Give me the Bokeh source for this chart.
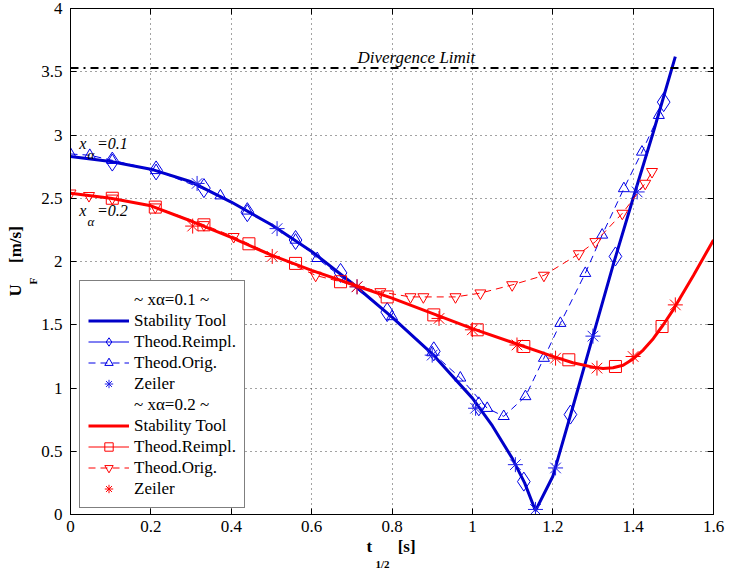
import numpy as np
from bokeh.plotting import figure
from bokeh.models import Range1d, FixedTicker, LinearAxis, Legend, LegendItem, Label, Span, Title
from bokeh.embed import file_html
from bokeh.resources import INLINE

# ---------------- ticks ----------------
x_ticks = [0, 0.2, 0.4, 0.6, 0.8, 1.0, 1.2, 1.4, 1.6]
x_tick_labels = ["0", "0.2", "0.4", "0.6", "0.8", "1", "1.2", "1.4", "1.6"]
y_ticks = [0, 0.5, 1.0, 1.5, 2.0, 2.5, 3.0, 3.5, 4.0]
y_tick_labels = ["0", "0.5", "1", "1.5", "2", "2.5", "3", "3.5", "4"]

divergence_limit = 3.53

# ---------------- x_alpha = 0.1 ----------------
st1_t = [0.0, 0.1, 0.2, 0.3, 0.4, 0.5, 0.6, 0.7, 0.8, 0.9, 1.0, 1.05, 1.1, 1.13, 1.157,
         1.2, 1.25, 1.3, 1.35, 1.4, 1.45, 1.505]
st1_u = [2.83, 2.79, 2.73, 2.63, 2.47, 2.29, 2.08, 1.83, 1.56, 1.27, 0.92, 0.70, 0.44, 0.25, 0.03,
         0.30, 0.85, 1.41, 1.97, 2.50, 3.02, 3.62]

reimpl1_t = [0.104, 0.213, 0.332, 0.44, 0.56, 0.672, 0.788, 0.904, 1.016, 1.128, 1.244, 1.356, 1.476]
reimpl1_u = [2.79, 2.72, 2.58, 2.39, 2.17, 1.91, 1.60, 1.29, 0.855, 0.26, 0.79, 2.04, 3.26]

orig1_t = [0.0, 0.048, 0.104, 0.213, 0.373, 0.44, 0.56, 0.614, 0.80, 0.90, 0.97, 1.037, 1.078,
           1.132, 1.178, 1.219, 1.281, 1.323, 1.377, 1.422, 1.464]
orig1_u = [2.85, 2.84, 2.80, 2.72, 2.52, 2.40, 2.17, 2.025, 1.565, 1.28, 1.08, 0.84, 0.776,
           0.933, 1.236, 1.512, 1.907, 2.21, 2.577, 2.866, 3.156]

zeiler1_t = [0.315, 0.514, 0.713, 0.90, 1.008, 1.107, 1.157, 1.207, 1.30, 1.41]
zeiler1_u = [2.617, 2.26, 1.80, 1.26, 0.84, 0.394, 0.04, 0.368, 1.41, 2.55]

# ---------------- x_alpha = 0.2 ----------------
st2_t = [0.0, 0.1, 0.2, 0.3, 0.4, 0.5, 0.6, 0.7, 0.8, 0.9, 1.0, 1.1, 1.2, 1.25, 1.3, 1.325,
         1.35, 1.375, 1.4, 1.425, 1.45, 1.475, 1.5, 1.55, 1.6]
st2_u = [2.54, 2.50, 2.44, 2.32, 2.19, 2.05, 1.93, 1.82, 1.71, 1.59, 1.47, 1.36, 1.25, 1.20, 1.165, 1.155,
         1.16, 1.18, 1.23, 1.30, 1.39, 1.50, 1.62, 1.89, 2.17]

reimpl2_t = [0.104, 0.211, 0.332, 0.444, 0.56, 0.672, 0.788, 0.904, 1.012, 1.128, 1.24, 1.356, 1.472]
reimpl2_u = [2.50, 2.43, 2.29, 2.14, 1.985, 1.84, 1.72, 1.578, 1.46, 1.328, 1.223, 1.17, 1.486]

orig2_t = [0.0, 0.046, 0.104, 0.211, 0.332, 0.406, 0.61, 0.771, 0.846, 0.878, 0.958, 1.02,
           1.099, 1.178, 1.265, 1.306, 1.373, 1.43, 1.447]
orig2_u = [2.54, 2.52, 2.50, 2.43, 2.29, 2.196, 1.89, 1.76, 1.72, 1.72, 1.72, 1.75,
           1.815, 1.89, 2.06, 2.156, 2.38, 2.617, 2.71]

zeiler2_t = [0.304, 0.502, 0.713, 0.917, 1.0, 1.111, 1.207, 1.31, 1.40, 1.505]
zeiler2_u = [2.28, 2.04, 1.80, 1.55, 1.46, 1.34, 1.236, 1.157, 1.249, 1.657]

# annotation anchors (data units)
ann_t = 0.022
ann_alpha_t = 0.042
ann_val_t = 0.066
ann1_u = 2.935
ann2_u = 2.40
sub_drop = 0.087
div_text_t = 0.714

BLUE_ST = "#0000C8"
BLUE = "#0000E6"
BLUE_Z = "#2020E8"
RED = "#FF0000"
FONT = "Liberation Serif"
NB = "\u00a0"

p = figure(width=729, height=569, x_range=Range1d(0, 1.6), y_range=Range1d(0, 4),
           output_backend="svg", toolbar_location=None,
           min_border_left=70, min_border_right=16, min_border_top=8, min_border_bottom=54)
p.background_fill_color = "white"
p.border_fill_color = "white"
p.outline_line_color = "black"
p.outline_line_width = 1


def style_axis(ax, ticks, labels, show, standoff=8):
    ax.ticker = FixedTicker(ticks=ticks)
    ax.major_tick_in = 6
    ax.major_tick_out = 0
    ax.minor_tick_line_color = None
    ax.axis_line_color = "black"
    ax.major_tick_line_color = "black"
    ax.major_label_text_font = FONT
    ax.major_label_text_color = "black"
    ax.major_label_standoff = standoff
    if show:
        ax.major_label_text_font_size = "17px"
        ax.major_label_overrides = {t: l for t, l in zip(ticks, labels)}
    else:
        ax.major_label_text_font_size = "0px"
        ax.major_label_text_alpha = 0


style_axis(p.xaxis[0], x_ticks, x_tick_labels, True, standoff=6)
style_axis(p.yaxis[0], y_ticks, y_tick_labels, True, standoff=8)
top_ax = LinearAxis()
right_ax = LinearAxis()
p.add_layout(top_ax, "above")
p.add_layout(right_ax, "right")
style_axis(top_ax, x_ticks, x_tick_labels, False)
style_axis(right_ax, y_ticks, y_tick_labels, False)

p.xgrid.ticker = FixedTicker(ticks=x_ticks)
p.ygrid.ticker = FixedTicker(ticks=y_ticks)
for g in (p.xgrid, p.ygrid):
    g.grid_line_color = "#333333"
    g.grid_line_dash = "1 4"
    g.grid_line_width = 1
    g.grid_line_alpha = 0.9

# ---- axis labels as side titles (subscripts in their own rows) ----
tkw = dict(text_font=FONT, text_font_style="bold", text_color="black", standoff=0, align="left")
p.add_layout(Title(text="t" + NB * 6 + "[s]", text_font_size="17px", offset=296, **tkw), "below")
p.add_layout(Title(text="1/2", text_font_size="11px", offset=305, **tkw), "below")
p.add_layout(Title(text="F", text_font_size="11px", offset=230, **tkw), "left")
p.add_layout(Title(text="U" + NB * 5 + "[m/s]", text_font_size="17px", offset=218, **tkw), "left")

# divergence limit
p.add_layout(Span(location=divergence_limit, dimension="width", line_color="black",
                  line_width=2, line_dash="8 5 2 5"))
p.add_layout(Label(x=div_text_t, y=divergence_limit, y_offset=10, text="Divergence Limit",
                   text_font=FONT, text_font_style="italic", text_font_size="17px",
                   text_baseline="alphabetic", text_align="left", text_color="black"))

# ---- curves x_alpha = 0.1 ----
r_st1 = p.line(st1_t, st1_u, line_color=BLUE_ST, line_width=3)
r_re1 = p.scatter(reimpl1_t, reimpl1_u, marker="diamond", size=19, line_color=BLUE,
                  fill_color=None, line_width=1)
r_re1_leg = p.line([np.nan], [np.nan], line_color=BLUE, line_width=1)
r_or1_l = p.line(orig1_t, orig1_u, line_color=BLUE, line_width=1, line_dash="7 5")
r_or1_m = p.scatter(orig1_t, orig1_u, marker="triangle", size=11, line_color=BLUE,
                    fill_color=None, line_width=1)
r_ze1 = p.scatter(zeiler1_t, zeiler1_u, marker="asterisk", size=15, line_color=BLUE_Z, line_width=1)

# ---- curves x_alpha = 0.2 ----
r_st2 = p.line(st2_t, st2_u, line_color=RED, line_width=3)
r_re2 = p.scatter(reimpl2_t, reimpl2_u, marker="square", size=12, line_color=RED,
                  fill_color=None, line_width=1)
r_re2_leg = p.line([np.nan], [np.nan], line_color=RED, line_width=1)
r_or2_l = p.line(orig2_t, orig2_u, line_color=RED, line_width=1, line_dash="7 5")
r_or2_m = p.scatter(orig2_t, orig2_u, marker="inverted_triangle", size=11, line_color=RED,
                    fill_color=None, line_width=1)
r_ze2 = p.scatter(zeiler2_t, zeiler2_u, marker="asterisk", size=15, line_color=RED, line_width=1)

hdr1 = p.line([np.nan], [np.nan], line_alpha=0)
hdr2 = p.line([np.nan], [np.nan], line_alpha=0)

# ---- in-plot annotations ----
def alpha_label(u, val):
    kw = dict(text_font=FONT, text_font_style="italic", text_color="black",
              text_baseline="alphabetic", text_align="left")
    p.add_layout(Label(x=ann_t, y=u, text="x", text_font_size="16px", **kw))
    p.add_layout(Label(x=ann_alpha_t, y=u - sub_drop, text="α", text_font_size="13px", **kw))
    p.add_layout(Label(x=ann_val_t, y=u, text="=" + val, text_font_size="16px", **kw))


alpha_label(ann1_u, "0.1")
alpha_label(ann2_u, "0.2")

# ---- legend ----
items = [
    LegendItem(label="~ xα=0.1 ~", renderers=[hdr1]),
    LegendItem(label="Stability Tool", renderers=[r_st1]),
    LegendItem(label="Theod.Reimpl.", renderers=[r_re1_leg, r_re1]),
    LegendItem(label="Theod.Orig.", renderers=[r_or1_l, r_or1_m]),
    LegendItem(label="Zeiler", renderers=[r_ze1]),
    LegendItem(label="~ xα=0.2 ~", renderers=[hdr2]),
    LegendItem(label="Stability Tool", renderers=[r_st2]),
    LegendItem(label="Theod.Reimpl.", renderers=[r_re2_leg, r_re2]),
    LegendItem(label="Theod.Orig.", renderers=[r_or2_l, r_or2_m]),
    LegendItem(label="Zeiler", renderers=[r_ze2]),
]
legend = Legend(items=items, location=(9, 6))
legend.label_text_font = FONT
legend.label_text_font_size = "17px"
legend.label_text_color = "black"
legend.glyph_width = 41
legend.glyph_height = 21
legend.label_height = 21
legend.spacing = 0
legend.padding = 8
legend.margin = 0
legend.label_standoff = 5
legend.border_line_color = "black"
legend.border_line_width = 1
legend.background_fill_color = "white"
legend.background_fill_alpha = 1
p.add_layout(legend)

open("out.html", "w").write(file_html(p, INLINE))
